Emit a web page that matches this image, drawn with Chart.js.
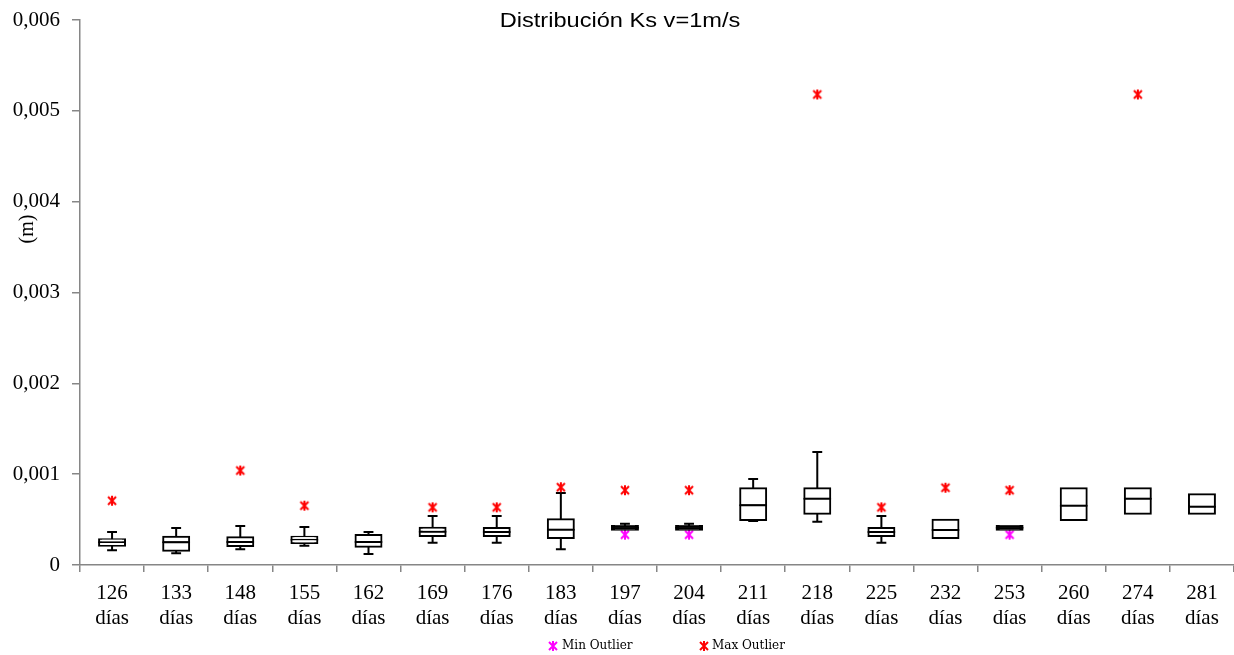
<!DOCTYPE html>
<html>
<head>
<meta charset="utf-8">
<script src="https://cdn.jsdelivr.net/npm/chart.js@4.4.1/dist/chart.umd.min.js"></script>
<style>
  html, body { margin: 0; padding: 0; background: #fff; }
  #wrap { width: 1234px; height: 655px; }
</style>
</head>
<body>
<div id="wrap"><canvas id="ksChart" width="1234" height="655"></canvas></div>
<script>
// dias de ensayo
var days = [126, 133, 148, 155, 162, 169, 176, 183, 197, 204, 211, 218, 225, 232, 253, 260, 274, 281];

// estadisticos de la caja (m)
var whiskerMin = [0.000162, 0.000129, 0.000173, 0.000213, 0.000121, 0.000246, 0.000246, 0.000173, null, null,
                  0.000485, 0.000477, 0.000246, null, null, null, null, null];
var q1 = [0.000213, 0.000158, 0.000209, 0.000242, 0.000202, 0.000319, 0.000319, 0.000297, 0.000389, 0.000389,
          0.000496, 0.000565, 0.000319, 0.000297, 0.000389, 0.000496, 0.000565, 0.000565];
var median = [0.000250, 0.000250, 0.000253, 0.000279, 0.000253, 0.000367, 0.000363, 0.000389, 0.000410, 0.000410,
              0.000657, 0.000730, 0.000363, 0.000385, 0.000410, 0.000653, 0.000730, 0.000642];
var q3 = [0.000283, 0.000312, 0.000305, 0.000312, 0.000330, 0.000411, 0.000407, 0.000503, 0.000430, 0.000430,
          0.000845, 0.000845, 0.000407, 0.000499, 0.000430, 0.000845, 0.000845, 0.000779];
var whiskerMax = [0.000363, 0.000407, 0.000430, 0.000418, 0.000363, 0.000540, 0.000540, 0.000793, 0.000455, 0.000455,
                  0.000947, 0.001244, 0.000540, null, null, null, null, null];

// outliers
var minOutlier = [null, null, null, null, null, null, null, null, 0.000334, 0.000334,
                  null, null, null, null, 0.000334, null, null, null];
var maxOutlier = [0.000708, null, 0.00104, 0.000653, null, 0.000635, 0.000635, 0.000856, 0.000823, 0.000823,
                  null, 0.00518, 0.000635, 0.000851, 0.000823, null, 0.00518, null];

var dayLabels = days.map(function (d) { return [String(d), 'días']; });

function starMarker(color) {
    var c = document.createElement('canvas');
    c.width = 12; c.height = 12;
    var g = c.getContext('2d');
    g.strokeStyle = color;
    g.lineWidth = 2;
    g.beginPath();
    g.moveTo(2, 2); g.lineTo(10, 10);
    g.moveTo(10, 2); g.lineTo(2, 10);
    g.moveTo(6, 1); g.lineTo(6, 11);
    g.stroke();
    return c;
}
var minMark = starMarker('#ff00ff');
var maxMark = starMarker('#ff0000');

var whiskers = {
    id: 'whiskers',
    beforeDatasetsDraw: function (chart) {
        var x = chart.scales.x, y = chart.scales.y;
        var meta = chart.getDatasetMeta(0);
        var ctx = chart.ctx;
        ctx.save();
        ctx.strokeStyle = '#000';
        ctx.lineWidth = 2;
        days.forEach(function (d, i) {
            var cx = x.getPixelForValue(i);
            var half = meta.data[i].width * 0.19;
            var pairs = [[q3[i], whiskerMax[i]], [q1[i], whiskerMin[i]]];
            pairs.forEach(function (p) {
                if (p[1] === null) return;
                var y0 = y.getPixelForValue(p[0]), y1 = y.getPixelForValue(p[1]);
                ctx.beginPath();
                ctx.moveTo(cx, y0); ctx.lineTo(cx, y1);
                ctx.moveTo(cx - half, y1); ctx.lineTo(cx + half, y1);
                ctx.stroke();
            });
        });
        ctx.restore();
    }
};

var texts = {
    id: 'texts',
    afterDraw: function (chart) {
        var ctx = chart.ctx;
        ctx.save();
        ctx.fillStyle = '#000';
        ctx.textAlign = 'center';
        ctx.textBaseline = 'alphabetic';
        ctx.font = '20px "Liberation Sans", Arial, sans-serif';
        ctx.save();
        ctx.translate(620, 27);
        ctx.scale(1.18, 1);
        ctx.fillText('Distribución Ks v=1m/s', 0, 0);
        ctx.restore();

        // leyenda
        ctx.textAlign = 'left';
        ctx.textBaseline = 'middle';
        ctx.font = '12px "DejaVu Serif", serif';
        ctx.drawImage(minMark, 547, 640);
        ctx.fillText('Min Outlier', 562, 646);
        ctx.drawImage(maxMark, 698, 640);
        ctx.fillText('Max Outlier', 712, 646);

        ctx.translate(28, 229);
        ctx.rotate(-Math.PI / 2);
        ctx.textAlign = 'center';
        ctx.font = '20px "Liberation Serif", "Times New Roman", serif';
        ctx.fillText('(m)', 0, 0);
        ctx.restore();
    }
};

// cajas muy planas se ven rellenas de negro
function boxFill(c) {
    var y = c.chart.scales.y, i = c.dataIndex;
    if (!y) return '#ffffff';
    var h = y.getPixelForValue(q1[i]) - y.getPixelForValue(q3[i]);
    return h < 6 ? '#000000' : '#ffffff';
}

var boxStyle = {
    type: 'bar',
    backgroundColor: boxFill,
    borderColor: '#000000',
    borderWidth: 2,
    borderSkipped: false,
    inflateAmount: 1,
    grouped: false,
    categoryPercentage: 1,
    barPercentage: 0.405
};

var ctx = document.getElementById('ksChart').getContext('2d');
var ksChart = new Chart(ctx, {
    data: {
        labels: dayLabels,
        datasets: [
            Object.assign({ label: 'lower', data: days.map(function (d, i) { return [q1[i], median[i]]; }) }, boxStyle),
            Object.assign({ label: 'upper', data: days.map(function (d, i) { return [median[i], q3[i]]; }) }, boxStyle),
            {
                type: 'line', label: 'Min Outlier', data: minOutlier, showLine: false,
                pointStyle: minMark, borderColor: '#ff00ff', backgroundColor: '#ff00ff'
            },
            {
                type: 'line', label: 'Max Outlier', data: maxOutlier, showLine: false,
                pointStyle: maxMark, borderColor: '#ff0000', backgroundColor: '#ff0000'
            }
        ]
    },
    options: {
        responsive: false,
        animation: false,
        layout: { autoPadding: false, padding: { top: 20, right: 0, left: 0, bottom: 25 } },
        plugins: {
            title: { display: false },
            tooltip: { enabled: false },
            legend: { display: false }
        },
        scales: {
            x: {
                type: 'category',
                offset: true,
                grid: { display: true, drawOnChartArea: false, offset: true, tickLength: 7, color: '#868686', lineWidth: 1.5 },
                border: { color: '#868686', width: 1.5 },
                ticks: {
                    color: '#000', padding: 9, maxRotation: 0, autoSkip: false,
                    font: { family: '"Liberation Serif", "Times New Roman", serif', size: 21, lineHeight: 1.2 }
                },
                afterFit: function (scale) {
                    scale.height = 65;
                    scale.paddingLeft = 0;
                    scale.paddingRight = 0;
                }
            },
            y: {
                min: 0,
                max: 0.006,
                grid: { drawOnChartArea: false, tickLength: 8, color: '#868686', lineWidth: 1.5 },
                border: { color: '#868686', width: 1.5 },
                ticks: {
                    stepSize: 0.001, color: '#000', padding: 12,
                    font: { family: '"Liberation Serif", "Times New Roman", serif', size: 21 },
                    callback: function (v) { return v === 0 ? '0' : v.toFixed(3).replace('.', ','); }
                },
                afterFit: function (scale) {
                    scale.width = 80;
                    scale.paddingTop = 0;
                    scale.paddingBottom = 0;
                }
            }
        }
    },
    plugins: [whiskers, texts]
});
</script>
</body>
</html>
